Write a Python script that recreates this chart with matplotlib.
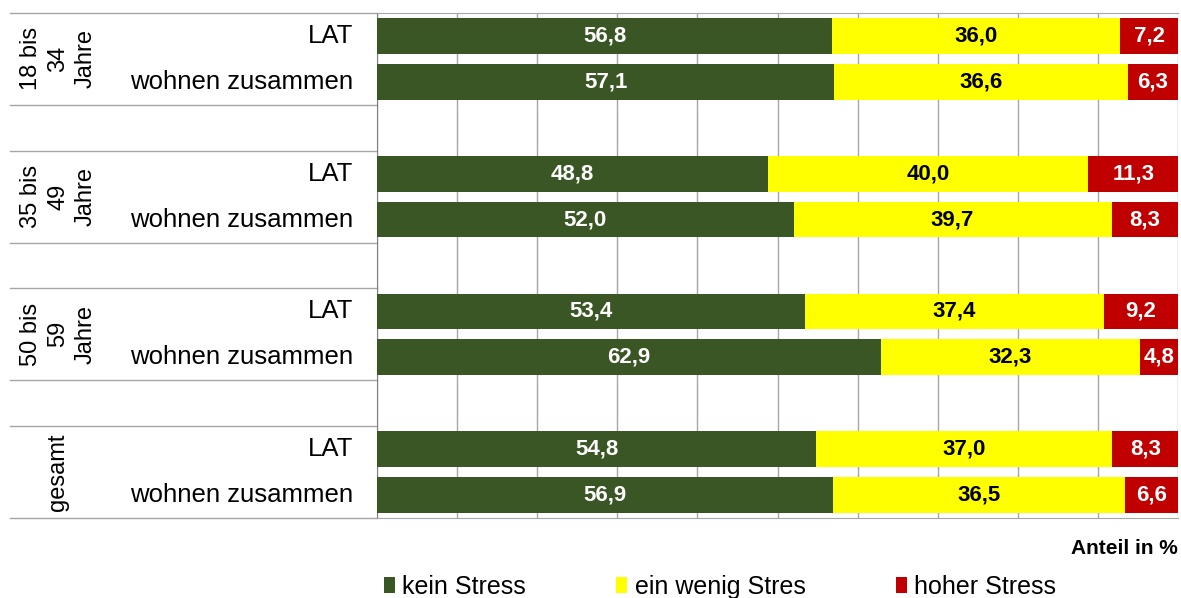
import matplotlib.pyplot as plt
import matplotlib.transforms as mtransforms

plt.rcParams['font.family'] = ['Liberation Sans', 'DejaVu Sans']

# ---------------- data
groups = ['18 bis\n34\nJahre', '35 bis\n49\nJahre', '50 bis\n59\nJahre', 'gesamt']
rows = ['LAT', 'wohnen zusammen']
series = ['kein Stress', 'ein wenig Stres', 'hoher Stress']
kein = [56.8, 57.1, 48.8, 52.0, 53.4, 62.9, 54.8, 56.9]
wenig = [36.0, 36.6, 40.0, 39.7, 37.4, 32.3, 37.0, 36.5]
hoch = [7.2, 6.3, 11.3, 8.3, 9.2, 4.8, 8.3, 6.6]
colors = ['#3A5624', '#FFFF00', '#C00000']
txt_colors = ['white', 'black', 'white']

# ---------------- figure
fig = plt.figure(figsize=(11.81, 5.98), dpi=100)
ax = fig.add_axes([377 / 1181, 80 / 598, 801 / 1181, 505 / 598])

# row positions: 2 bars per group, one empty row between groups
ypos = []
for g in range(len(groups)):
    ypos += [g * 3 + 0.5, g * 3 + 1.5]

left = [0] * len(kein)
for vals, col, tc, name in zip([kein, wenig, hoch], colors, txt_colors, series):
    bars = ax.barh(ypos, vals, left=left, height=0.78, color=col, label=name, zorder=3)
    for b, v in zip(bars, vals):
        ax.text(b.get_x() + b.get_width() / 2, b.get_y() + b.get_height() / 2,
                f'{v:.1f}'.replace('.', ','), ha='center', va='center',
                color=tc, fontsize=16, fontweight='bold', zorder=4)
    left = [l + v for l, v in zip(left, vals)]

ax.set_xlim(0, 100)
ax.set_ylim(11, 0)
ax.set_xticks(range(0, 101, 10))
ax.xaxis.grid(True, color='#A6A6A6', lw=1, zorder=0)
ax.tick_params(left=False, bottom=False, labelleft=False, labelbottom=False)
for s in ['top', 'bottom']:
    ax.spines[s].set_color('#A6A6A6')
ax.spines['right'].set_visible(False)
ax.spines['left'].set_color('#808080')

# ---------------- left label table
trans = mtransforms.blended_transform_factory(ax.transAxes, ax.transData)
for y in [0, 2, 3, 5, 6, 8, 9, 11]:
    ax.plot([-0.458, 0], [y, y], color='#A6A6A6', lw=1, transform=trans, clip_on=False)
for g, name in enumerate(groups):
    ax.text(-0.398, g * 3 + 1, name, rotation=90, ha='center', va='center',
            fontsize=17, linespacing=1.3, transform=trans)
for y, i in zip(ypos, range(len(ypos))):
    ax.text(-0.03, y, rows[i % 2], ha='right', va='center', fontsize=18.5, transform=trans)

# ---------------- axis caption and legend
fig.text(1178 / 1181, 1 - 549 / 598, 'Anteil in %', ha='right', va='center',
         fontsize=15, fontweight='bold')
fig.legend(loc='center', bbox_to_anchor=(720 / 1181, 1 - 587 / 598), ncol=3,
           frameon=False, fontsize=18, handlelength=0.45, handleheight=0.6,
           handletextpad=0.3, columnspacing=3.6)

fig.savefig('out.png', dpi=100)
